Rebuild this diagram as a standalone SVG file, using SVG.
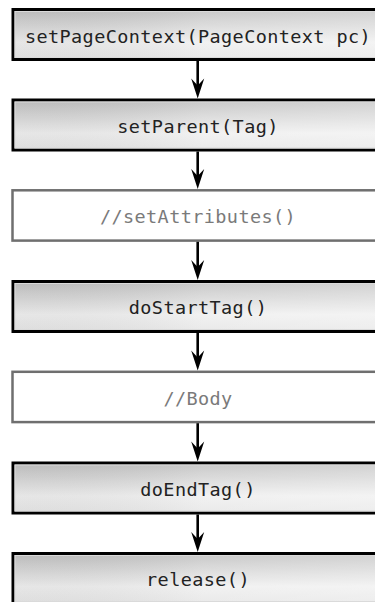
<svg xmlns="http://www.w3.org/2000/svg" width="375" height="602" viewBox="0 0 375 602">
  <defs>
    <linearGradient id="gv" x1="0" y1="0" x2="0" y2="1">
      <stop offset="0" stop-color="#c2c2c2"/>
      <stop offset="0.66" stop-color="#f0f0f0"/>
      <stop offset="1" stop-color="#e7e7e7"/>
    </linearGradient>
    <linearGradient id="gh" x1="0" y1="0" x2="1" y2="0">
      <stop offset="0" stop-color="#000" stop-opacity="0.04"/>
      <stop offset="0.5" stop-color="#fff" stop-opacity="0.1"/>
      <stop offset="1" stop-color="#fff" stop-opacity="0.25"/>
    </linearGradient>
    <marker id="arr" markerUnits="userSpaceOnUse" viewBox="-21 -7 22 14" refX="-8" refY="0" markerWidth="22" markerHeight="14" orient="auto">
      <path d="M0,0 L-20,-6.5 L-13,0 L-20,6.5 Z" fill="#000"/>
    </marker>
  </defs>
  <style>
    .dark rect.b { fill: url(#gv); stroke: #000; stroke-width: 3; }
    .dark rect.o { fill: url(#gh); stroke: none; }
    .dark rect.i { fill: none; stroke: #dadada; stroke-width: 1; }
    .light rect.b { fill: #fff; stroke: #6f6f6f; stroke-width: 2.5; }
    text { font-family: "DejaVu Sans Mono", "Liberation Mono", monospace; font-size: 18.5px; letter-spacing: 0.4px; text-anchor: middle; }
    .dark text { fill: #222; }
    .light text { fill: #7a7a7a; }
    .conn line { stroke: #000; stroke-width: 2.6; marker-end: url(#arr); }
  </style>
  <g id="n1" class="dark">
    <rect class="b" x="13" y="9.5" width="380" height="50"/>
    <rect class="o" x="14.5" y="11" width="377" height="47"/>
    <rect class="i" x="15" y="11.5" width="375" height="46"/>
    <text x="198" y="42.5">setPageContext(PageContext pc)</text>
  </g>
  <g id="n2" class="dark">
    <rect class="b" x="13" y="100" width="380" height="50"/>
    <rect class="o" x="14.5" y="101.5" width="377" height="47"/>
    <rect class="i" x="15" y="102" width="375" height="46"/>
    <text x="198" y="132.5">setParent(Tag)</text>
  </g>
  <g id="n3" class="light">
    <rect class="b" x="12.5" y="190.3" width="380" height="50.3"/>
    <text x="198" y="223">//setAttributes()</text>
  </g>
  <g id="n4" class="dark">
    <rect class="b" x="13" y="281.5" width="380" height="50"/>
    <rect class="o" x="14.5" y="283" width="377" height="47"/>
    <rect class="i" x="15" y="283.5" width="375" height="46"/>
    <text x="198" y="314">doStartTag()</text>
  </g>
  <g id="n5" class="light">
    <rect class="b" x="12.5" y="371.8" width="380" height="50.3"/>
    <text x="198" y="404.5">//Body</text>
  </g>
  <g id="n6" class="dark">
    <rect class="b" x="13" y="463" width="380" height="50"/>
    <rect class="o" x="14.5" y="464.5" width="377" height="47"/>
    <rect class="i" x="15" y="465" width="375" height="46"/>
    <text x="198" y="495.5">doEndTag()</text>
  </g>
  <g id="n7" class="dark">
    <rect class="b" x="13" y="553.5" width="380" height="50"/>
    <rect class="o" x="14.5" y="555" width="377" height="47"/>
    <rect class="i" x="15" y="555.5" width="375" height="46"/>
    <text x="198" y="586">release()</text>
  </g>
  <g id="connectors" class="conn">
    <line x1="197.7" y1="61" x2="197.7" y2="90.5"/>
    <line x1="197.7" y1="151.5" x2="197.7" y2="181"/>
    <line x1="197.7" y1="241.8" x2="197.7" y2="272"/>
    <line x1="197.7" y1="333" x2="197.7" y2="362.5"/>
    <line x1="197.7" y1="423.2" x2="197.7" y2="453.5"/>
    <line x1="197.7" y1="514.5" x2="197.7" y2="544"/>
  </g>
</svg>
